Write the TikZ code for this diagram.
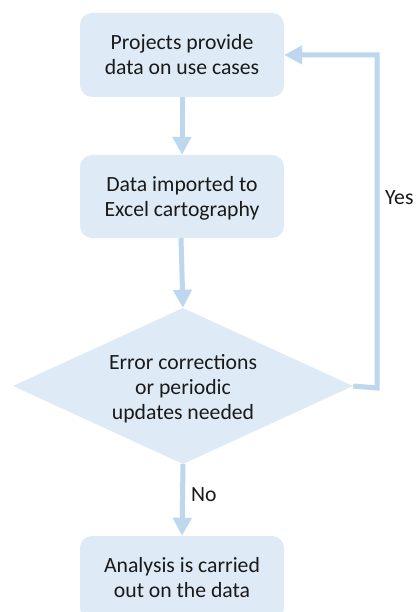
\documentclass[tikz,border=0pt]{standalone}
\usepackage{fontspec}
\setmainfont{Carlito}
\usetikzlibrary{shapes.geometric,arrows.meta}
\definecolor{boxfill}{HTML}{DEEAF6}
\definecolor{arrowc}{HTML}{BDD7EE}
\definecolor{txt}{HTML}{1A1A1A}
\tikzset{
  stepbox/.style={rectangle, rounded corners=12pt, fill=boxfill, minimum width=204pt, inner sep=0pt, align=center, text=txt, font=\fontsize{21.7pt}{25pt}\selectfont},
  decision/.style={diamond, fill=boxfill, minimum width=340pt, minimum height=156pt, inner sep=0pt, aspect=2.18},
  flow/.style={draw=arrowc, line width=5pt, -{Triangle[width=18pt,length=18pt]}},
  lbl/.style={text=txt, font=\fontsize{21.7pt}{25pt}\selectfont, inner sep=0pt}
}
\begin{document}
\begin{tikzpicture}[x=1pt,y=-1pt]
\clip (0,0) rectangle (416,612);
\fill[white] (0,0) rectangle (416,612);
\node[stepbox, minimum height=84pt] (b1) at (182,55) {Projects provide\\data on use cases};
\node[stepbox, minimum height=83pt] (b2) at (182,196.5) {};
\node[lbl, align=center] (b2t) at (182,198.5) {Data imported to\\Excel cartography};
\node[decision] (d) at (183,386) {};
\node[lbl, align=center] (dt) at (183,388.5) {Error corrections\\or periodic\\updates needed};
\node[stepbox, minimum height=84pt] (b3) at (182,578) {};
\node[lbl, align=center] (b3t) at (182,578) {Analysis is carried\\out on the data};
\draw[flow] (b1.south) -- (b2.north);
\draw[flow] ([xshift=-1pt]b2.south) -- (d.north);
\coordinate (yc) at (377,388);
\draw[flow] (d.east) -- (yc) |- (b1.east);
\draw[flow] (d.south) -- (b3.north);
\node[lbl, anchor=west] (yes) at (385,198) {Yes};
\node[lbl, anchor=west] (no) at (191,495) {No};
\end{tikzpicture}
\end{document}
